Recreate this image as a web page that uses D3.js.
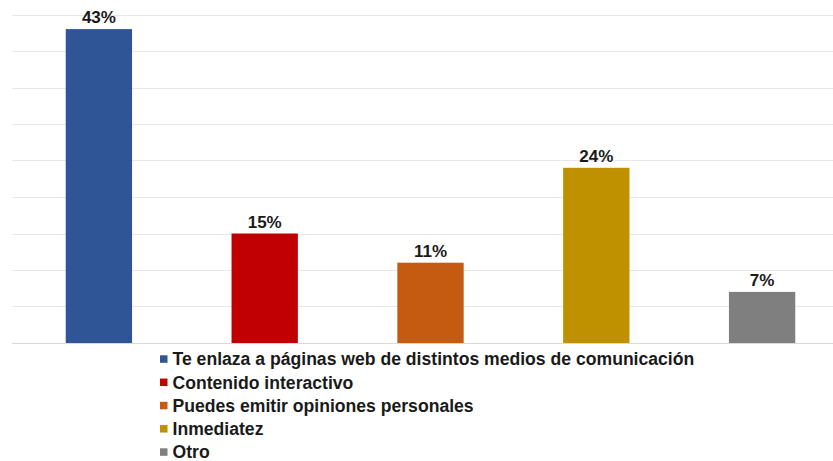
<!DOCTYPE html>
<html>
<head>
<meta charset="utf-8">
<script src="https://cdn.jsdelivr.net/npm/d3@7"></script>
<style>
  html, body { margin: 0; padding: 0; background: #ffffff; }
  svg { display: block; }
  text { font-family: "Liberation Sans", Arial, sans-serif; }
</style>
</head>
<body>
<svg id="chart" width="833" height="461"></svg>
<script>
// Survey answers: share of respondents per reason
const categories = [
  "Te enlaza a páginas web de distintos medios de comunicación",
  "Contenido interactivo",
  "Puedes emitir opiniones personales",
  "Inmediatez",
  "Otro"
];
const values = [43, 15, 11, 24, 7];
const colors = ["#2F5597", "#C00000", "#C55A11", "#BF9000", "#7F7F7F"];
const gridTicks = [0, 5, 10, 15, 20, 25, 30, 35, 40, 45];

const svg = d3.select("#chart");

const x = d3.scaleBand()
  .domain(categories)
  .range([16, 845])
  .paddingInner(0.6)
  .paddingOuter(0.3);

const y = d3.scaleLinear()
  .domain([0, 45])
  .range([343, 14.5]);

// horizontal gridlines
svg.append("g")
  .selectAll("line")
  .data(gridTicks)
  .join("line")
  .attr("x1", 12)
  .attr("x2", 833)
  .attr("y1", d => Math.round(y(d)) + 0.5)
  .attr("y2", d => Math.round(y(d)) + 0.5)
  .attr("stroke", d => d === 0 ? "#d9d9d9" : "#e8e8e8")
  .attr("stroke-width", 1);

// bars
svg.append("g")
  .selectAll("rect")
  .data(values)
  .join("rect")
  .attr("x", (d, i) => x(categories[i]))
  .attr("width", x.bandwidth())
  .attr("y", d => y(d))
  .attr("height", d => y(0) - y(d))
  .attr("fill", (d, i) => colors[i]);

// value labels
svg.append("g")
  .selectAll("text")
  .data(values)
  .join("text")
  .attr("x", (d, i) => x(categories[i]) + x.bandwidth() / 2)
  .attr("y", d => y(d) - 6)
  .attr("text-anchor", "middle")
  .attr("font-size", 17)
  .attr("font-weight", "bold")
  .attr("fill", "#1a1a1a")
  .text(d => d + "%");

// legend
const legend = svg.append("g")
  .selectAll("g")
  .data(categories)
  .join("g")
  .attr("transform", (d, i) => `translate(160, ${359.3 + i * 23.25})`);

legend.append("rect")
  .attr("x", 0)
  .attr("y", -4)
  .attr("width", 7.5)
  .attr("height", 7.5)
  .attr("fill", (d, i) => colors[i]);

legend.append("text")
  .attr("x", 12.5)
  .attr("y", 0)
  .attr("dy", "0.35em")
  .attr("font-size", 17.6)
  .attr("font-weight", "bold")
  .attr("fill", "#1a1a1a")
  .text(d => d);
</script>
</body>
</html>
